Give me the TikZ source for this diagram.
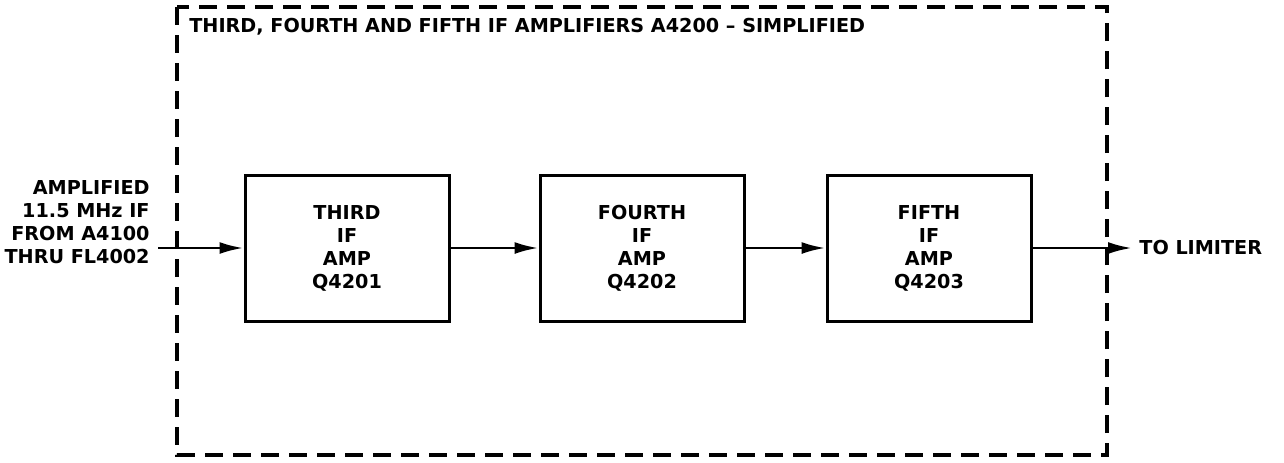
\documentclass[tikz,border=0pt]{standalone}
\usepackage{fontspec}
\setmainfont{DejaVu Sans}
\usepackage{tikz}
\usetikzlibrary{positioning,calc,arrows.meta}

\begin{document}
\begin{tikzpicture}[x=0.5pt,y=-0.5pt,font={\fontsize{9.6pt}{11.5pt}\selectfont\bfseries},
  st/.style={draw,line width=1.5pt,minimum width=102pt,minimum height=73pt,align=center,inner sep=1pt},
  sig/.style={-{Latex[length=12pt,width=6pt]},line width=1.4pt}]
  \useasboundingbox (0,0) rectangle (1284,462);
  % dashed outline of A4200
  \draw[line width=1.6pt,dash pattern=on 9pt off 5pt] (177,7) rectangle (1107,455);
  \node[anchor=west,inner sep=0pt] (ttl) at (189,27) {THIRD, FOURTH AND FIFTH IF AMPLIFIERS A4200 -- SIMPLIFIED};
  \node[st] (q1) at (347,248) {THIRD\\IF\\AMP\\Q4201};
  \node[st,right=44pt of q1] (q2) {FOURTH\\IF\\AMP\\Q4202};
  \node[st,right=40pt of q2] (q3) {FIFTH\\IF\\AMP\\Q4203};
  \node[anchor=east,align=right,inner sep=0pt] (inp) at (150,222) {AMPLIFIED\\11.5 MHz IF\\FROM A4100\\THRU FL4002};
  \coordinate (src) at (158,248);
  \coordinate (dst) at (1132,248);
  \node[anchor=west,inner sep=0pt] (lim) at (1139,248) {TO LIMITER};
  \draw[sig] (src) -- (src -| q1.west);
  \foreach \p/\q in {q1/q2,q2/q3} \draw[sig] (\p.east |- src) -- (\q.west |- src);
  \draw[sig] (q3.east |- src) -- (dst);
\end{tikzpicture}
\end{document}
